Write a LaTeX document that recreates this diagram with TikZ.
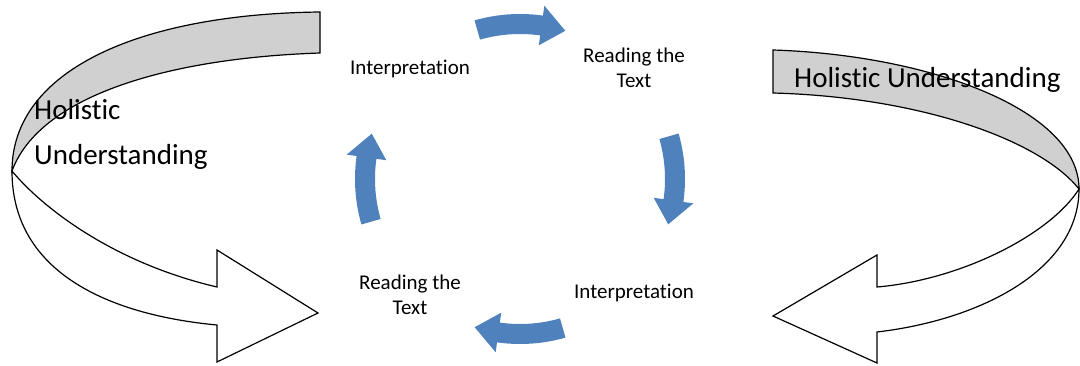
\documentclass[tikz,border=0pt]{standalone}
\usepackage{fontspec}
\setmainfont{Carlito}[Ligatures=NoCommon]

\definecolor{cycleblue}{RGB}{79,129,189}
\definecolor{bandgray}{RGB}{208,208,208}

\tikzset{
  band/.style={draw=black, line width=1.2pt},
  step label/.style={font=\fontsize{21}{25}\selectfont, align=center, inner sep=0pt},
  big label/.style={font=\fontsize{29}{45}\selectfont, align=left, inner sep=0pt}
}

\begin{document}
\begin{tikzpicture}[x=1pt,y=1pt]
      \useasboundingbox (0,0) rectangle (1080,365);
      \coordinate (cyc) at (520,186);
      \filldraw[band, fill=bandgray] (320,353) .. controls (140,351) and (12,295) .. (12,194)
        .. controls (40,270) and (170,307) .. (320,312) -- cycle;
      \filldraw[band, fill=white] (12,194) .. controls (12,92) and (110,50) .. (217,40)
        -- (217,3) -- (318,52) -- (217,115) -- (217,78)
        .. controls (110,103) and (40,160) .. (12,194) -- cycle;
      \filldraw[band, fill=bandgray] (773,315) .. controls (930,310) and (1079,255) .. (1079,176)
        .. controls (1040,225) and (920,268) .. (773,272) -- cycle;
      \filldraw[band, fill=white] (1079,176) .. controls (1079,95) and (980,45) .. (877,33)
        -- (877,2) -- (773,49) -- (877,110) -- (877,78)
        .. controls (960,85) and (1050,130) .. (1079,176) -- cycle;
      \foreach \a in {90,0,270,180}
        \fill[cycleblue, shift={(cyc)}] (\a+16:165) arc[start angle=\a+16, end angle=\a-8, radius=165pt]
          -- (\a-8:175) -- (\a-17:155) -- (\a-8:135) -- (\a-8:145)
          arc[start angle=\a-8, end angle=\a+16, radius=145pt] -- cycle;
      \node[step label, anchor=base] (interpTop) at (410,290) {Interpretation};
      \node[step label] (readTop) at (634,297) {Reading the\\Text};
      \node[step label, anchor=base] (interpBot) at (634,67) {Interpretation};
      \node[step label] (readBot) at (410,70) {Reading the\\Text};
      \node[big label, anchor=west] (holLeft) at (34,231) {Holistic\\Understanding};
      \node[big label, anchor=base west] (holRight) at (794,277) {Holistic Understanding};
    \end{tikzpicture}
\end{document}
